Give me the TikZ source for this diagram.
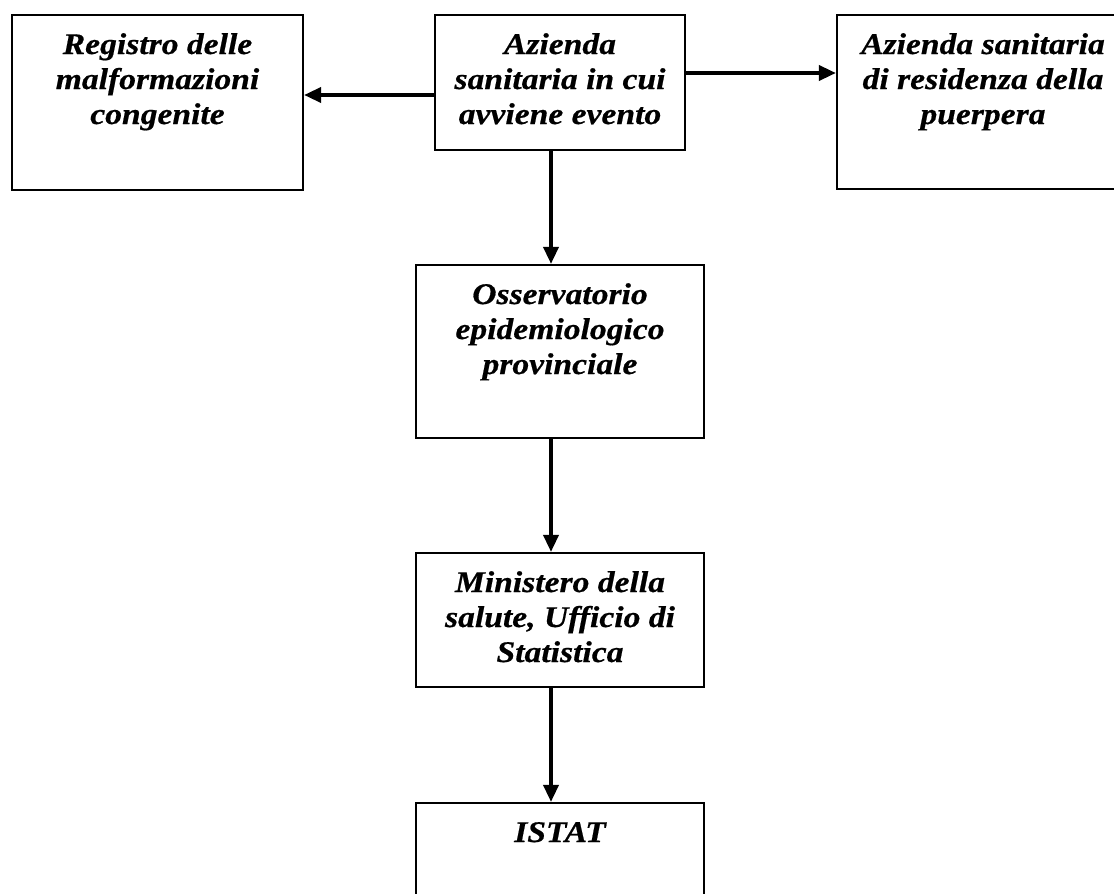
\documentclass[tikz,border=0pt]{standalone}
\usepackage{fontspec}
\newfontfamily\boxfont{Liberation Serif}[FakeStretch=1.12,FakeBold=0.6]
\usetikzlibrary{arrows.meta}
\tikzset{
  box/.style={draw, line width=2.2pt, inner sep=0pt, anchor=center},
  flow/.style={line width=3.6pt, -{Triangle[length=17pt,width=15pt]}},
}
\newcommand{\boxtext}[3]{\parbox[c][#1][t]{#2}{\centering\boxfont\bfseries\itshape\fontsize{30}{35}\selectfont\rule{0pt}{39pt}#3\par}}
\begin{document}
\begin{tikzpicture}[x=1pt,y=-1pt]
  \useasboundingbox (0,0) rectangle (1114,894);
  \fill[white] (0,0) rectangle (1114,894);
  \clip (0,0) rectangle (1114,894);
  \node[box] (b1) at (157.5,102.5) {\boxtext{175pt}{291pt}{Registro delle\\malformazioni\\congenite}};
  \node[box] (b2) at (560,82.5) {\boxtext{135pt}{250pt}{Azienda\\sanitaria in cui\\avviene evento}};
  \node[box] (b3) at (983,102) {\boxtext{174pt}{292pt}{Azienda sanitaria\\di residenza della\\puerpera}};
  \node[box] (b4) at (560,351.5) {\boxtext{173pt}{288pt}{Osservatorio\\epidemiologico\\provinciale}};
  \node[box] (b5) at (560,620) {\boxtext{134pt}{288pt}{Ministero della\\salute, Ufficio di\\Statistica}};
  \node[box] (b6) at (560,871.5) {\boxtext{137pt}{288pt}{ISTAT}};
  \coordinate (ax) at (551,0);
  \coordinate (yl) at (0,95);
  \coordinate (yr) at (0,73);
  \draw[flow] (b2.south -| ax) -- (b4.north -| ax);
  \draw[flow] (b4.south -| ax) -- (b5.north -| ax);
  \draw[flow] (b5.south -| ax) -- (b6.north -| ax);
  \draw[flow] (b2.west |- yl) -- (b1.east |- yl);
  \draw[flow] (b2.east |- yr) -- (b3.west |- yr);
\end{tikzpicture}
\end{document}
